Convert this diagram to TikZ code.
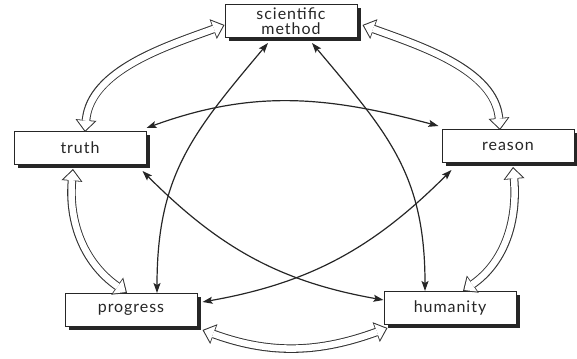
\documentclass[tikz,border=0pt]{standalone}
\usepackage{fontspec}
\setmainfont{Lato}[LetterSpace=6]
\usetikzlibrary{arrows.meta,shadows}

\tikzset{
  box/.style={draw=black!85, fill=white, line width=1pt,
    minimum width=132pt, minimum height=33pt, inner sep=1pt,
    font=\fontsize{16}{15.5}\selectfont, text=black!85, align=center,
    drop shadow={shadow xshift=4pt, shadow yshift=-4pt, fill=black!85, opacity=1}},
  hollow/.style={line width=8.5pt, draw=black!80,
    {Triangle[width=21pt,length=12pt,line width=0pt]}-{Triangle[width=21pt,length=12pt,line width=0pt]},
    postaction={draw=white, line width=6.5pt, shorten <=1.6pt, shorten >=1.6pt,
      {Triangle[width=17pt,length=9.6pt,line width=0pt]}-{Triangle[width=17pt,length=9.6pt,line width=0pt]}}},
  link/.style={draw=black!85, line width=1.2pt,
    {Stealth[length=10pt,width=7pt,inset=2pt]}-{Stealth[length=10pt,width=7pt,inset=2pt]}},
}

\begin{document}
\begin{tikzpicture}[x=1pt,y=1pt]
  \useasboundingbox (0,0) rectangle (577,358);
  % the five ideas
  \node[box] (sm) at (291,337) {scientific\\method};
  \node[box] (truth) at (80,210) {truth};
  \node[box] (reason) at (508,212) {reason};
  \node[box] (progress) at (131,48) {progress};
  \node[box] (humanity) at (450,50) {humanity};

  % outer ring
  \draw[hollow] ([shift={(5pt,-1pt)}]truth.north) to[out=85,in=200,looseness=0.9] ([yshift=-4pt]sm.west);
  \draw[hollow] ([shift={(-8pt,-1pt)}]reason.north) to[out=95,in=-20,looseness=0.9] ([shift={(5pt,-4pt)}]sm.east);
  \draw[hollow] ([shift={(-7pt,-4pt)}]truth.south) to[out=-95,in=145] ([xshift=-4pt]progress.north);
  \draw[hollow] ([shift={(5pt,-4pt)}]reason.south) to[out=-85,in=35] ([xshift=13pt]humanity.north);
  \draw[hollow] ([shift={(5pt,-3pt)}]progress.south east) to[out=-20,in=-160] ([shift={(4pt,-3pt)}]humanity.south west);

  % inner star
  \draw[link] ([shift={(-23pt,-5pt)}]sm.south) to[out=-130,in=90,looseness=1.1] ([xshift=26pt]progress.north);
  \draw[link] ([shift={(21pt,-5pt)}]sm.south) to[out=-50,in=90,looseness=1.1] ([xshift=-25pt]humanity.north);
  \draw[link] ([yshift=3pt]truth.north east) to[out=20,in=165,looseness=1] ([shift={(-3pt,3pt)}]reason.north west);
  \draw[link] ([shift={(-4pt,-6pt)}]truth.south east) to[out=-45,in=170] ([yshift=8pt]humanity.west);
  \draw[link] ([shift={(10pt,-7pt)}]reason.south west) to[out=-135,in=10] ([shift={(5pt,8pt)}]progress.east);
\end{tikzpicture}
\end{document}
